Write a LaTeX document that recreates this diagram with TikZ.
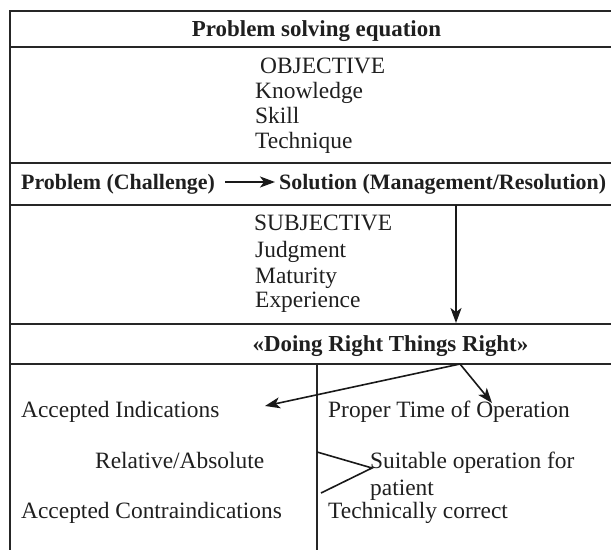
\documentclass[tikz,border=0pt]{standalone}
\usepackage{fontspec}
\setmainfont{Liberation Serif}
\usetikzlibrary{arrows.meta}

\begin{document}
\begin{tikzpicture}[x=1bp,y=-1bp,
  rule/.style={line width=1.9bp, draw=black!85},
  txt/.style={anchor=base west, inner sep=0pt, text=black!88,
    font=\fontsize{23.5}{26}\selectfont},
  hd/.style={txt, font=\fontsize{23}{26}\selectfont\bfseries},
  hdrow/.style={txt, font=\fontsize{22}{26}\selectfont\bfseries},
  arr/.style={line width=1.6bp, draw=black!90,
    -{Stealth[length=15bp,width=11bp,inset=4bp]}},
  plainline/.style={line width=1.6bp, draw=black!90}]
\useasboundingbox (0,0) rectangle (611,550);

% table frame and row rules
\draw[rule] (10,550) -- (10,11) -- (611,11);
\foreach \y in {47,163,205,324,364} \draw[rule] (10,\y) -- (611,\y);
\draw[rule] (317,364) -- (317,550);

% header
\node[hd, anchor=base] (title) at (316.5,36.7) {Problem solving equation};

% objective block
\node[txt] (obj)  at (260,74)  {OBJECTIVE};
\node[txt] (knw)  at (255,99)  {Knowledge};
\node[txt] (skl)  at (255,124) {Skill};
\node[txt] (tech) at (255,149) {Technique};

% problem -> solution
\node[hdrow] (prob) at (21,190)  {Problem (Challenge)};
\node[hdrow] (sol)  at (279,190) {Solution (Management/Resolution)};
\draw[arr] ([shift={(10,-8)}]prob.base east) -- ([shift={(-4,-8)}]sol.base west);

% subjective block
\node[txt] (subj) at (254,231) {SUBJECTIVE};
\node[txt] (jdg)  at (255,257) {Judgment};
\node[txt] (mat)  at (255,283) {Maturity};
\node[txt] (exp)  at (255,307) {Experience};
\coordinate (vtop) at (456,205);
\coordinate (vbot) at (456,323);
\draw[arr] (vtop) -- (vbot);

% motto row
\node[hd, anchor=base] (doing) at (390.5,351) {«Doing Right Things Right»};

% lower two columns
\node[txt] (ind)    at (21,417)  {Accepted Indications};
\node[txt] (rel)    at (95,468)  {Relative/Absolute};
\node[txt] (contra) at (21,518)  {Accepted Contraindications};
\node[txt] (prop)   at (328,417) {Proper Time of Operation};
\node[txt] (suit)   at (370,468) {Suitable operation for};
\node[txt] (pat)    at (370,495) {patient};
\node[txt] (techc)  at (328,518) {Technically correct};

\coordinate (fork)    at (460,364);
\coordinate (indtip)  at (265,406);
\coordinate (proptip) at (492,403);
\draw[arr] (fork) -- (indtip);
\draw[arr] (fork) -- (proptip);

\coordinate (bra) at (317,452);
\coordinate (brb) at (321,493);
\coordinate (brv) at (372,468);
\draw[plainline] (bra) -- (brv) -- (brb);
\end{tikzpicture}
\end{document}
